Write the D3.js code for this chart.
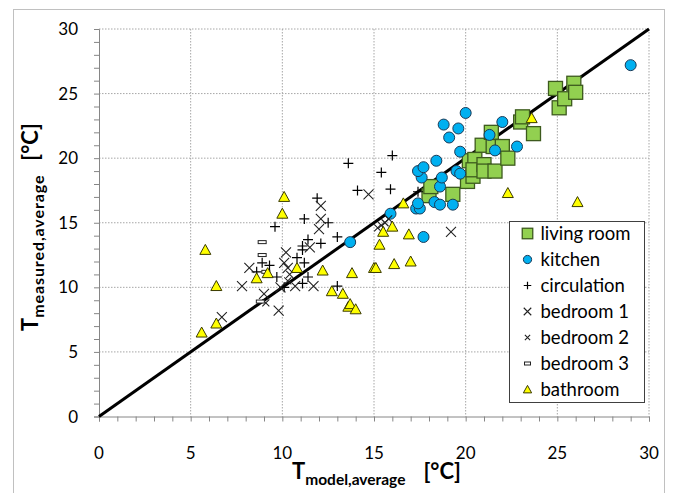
<!DOCTYPE html>
<html>
<head>
<meta charset="utf-8">
<script src="https://cdn.jsdelivr.net/npm/d3@7"></script>
<style>
    body { margin: 0; background: #fff; }
    text { font-family: Lato, "Open Sans", sans-serif; fill: #000; }
</style>
</head>
<body>
<div id="scatter"></div>
<script>
// parameters
var svgWidth = 675;
var svgHeight = 493;

var margin = { top: 29, right: 26, bottom: 76.5, left: 99 };
var chartWidth = svgWidth - margin.left - margin.right;
var chartHeight = svgHeight - margin.top - margin.bottom;

// data: [T model, T measured]
var livingRoom = [[18.0,17.1],[18.1,17.8],[19.3,17.2],[20.1,18.2],[20.4,18.6],[20.2,19.8],[20.5,19.9],
    [20.4,19.1],[21.0,19.5],[21.0,19.0],[21.6,19.0],[20.9,21.0],[21.4,22.0],[21.5,20.9],[22.0,20.9],
    [22.3,20.0],[23.0,22.8],[23.1,23.2],[23.7,21.9],[24.9,25.4],[25.1,23.9],[25.4,24.6],[25.9,25.8],[26.0,25.1]];
var kitchen = [[13.7,13.5],[15.9,15.7],[17.3,16.1],[17.5,16.1],[17.4,16.5],[17.7,13.9],[18.3,16.6],
    [18.6,16.4],[19.3,16.4],[18.6,17.8],[17.6,18.5],[18.7,18.5],[17.4,19.0],[17.7,19.3],[18.4,19.8],
    [19.5,19.0],[19.7,18.8],[19.7,20.5],[19.1,21.6],[18.8,22.6],[19.6,22.3],[20.0,23.5],[21.3,21.8],
    [21.6,20.6],[22.0,22.8],[22.8,20.9],[29.0,27.2]];
var circulation = [[8.6,11.2],[8.9,11.9],[9.3,11.7],[9.6,14.7],[9.7,10.8],[10.1,10.0],[10.8,12.3],
    [11.1,13.2],[11.1,12.9],[11.2,11.9],[11.4,13.7],[11.4,10.8],[11.1,10.3],[11.2,15.3],[11.9,16.9],
    [12.1,13.4],[12.5,15.0],[13.0,13.9],[13.0,10.1],[13.6,19.6],[14.1,17.5],[15.4,18.9],[15.9,17.6],
    [16.0,20.2],[17.4,17.4]];
var bedroom1 = [[6.7,7.7],[7.8,10.1],[8.2,11.5],[9.0,9.5],[9.8,8.2],[9.9,10.0],[10.2,12.7],[10.1,11.9],
    [10.3,11.5],[10.7,10.1],[11.5,13.1],[11.7,10.1],[12.0,14.5],[12.1,15.3],[12.1,16.3],[14.7,17.2],[19.2,14.3]];
var bedroom2 = [[9.1,8.8],[10.4,11.0],[10.3,10.5],[15.2,14.6],[15.4,14.8],[15.6,15.0],[15.8,15.3]];
var bedroom3 = [[8.9,13.5],[8.9,12.5],[9.1,11.2],[8.8,8.9]];
var bathroom = [[5.6,6.5],[5.8,12.9],[6.4,7.2],[6.4,10.1],[8.6,10.7],[9.2,11.1],[10.0,15.7],[10.1,17.0],
    [10.8,11.5],[12.2,11.3],[12.7,9.7],[13.3,9.5],[13.6,8.5],[13.7,8.7],[14.0,8.3],[13.8,11.1],[15.0,11.5],
    [15.1,11.5],[15.3,13.3],[15.5,14.3],[16.0,14.7],[16.1,11.8],[16.6,16.5],[16.9,14.1],[17.0,12.0],
    [22.3,17.3],[23.6,23.1],[26.1,16.6]];

var seriesNames = ["living room", "kitchen", "circulation", "bedroom 1", "bedroom 2", "bedroom 3", "bathroom"];
var seriesData = [livingRoom, kitchen, circulation, bedroom1, bedroom2, bedroom3, bathroom];
var majorTicks = [0, 5, 10, 15, 20, 25, 30];
var minorTicks = d3.range(0, 31, 1);
var identityLine = [[0, 0], [30, 30]];

var svg = d3.select("#scatter")
    .append("svg")
    .attr("width", svgWidth)
    .attr("height", svgHeight);

// chart outer border
svg.append("rect")
    .attr("x", 13.5).attr("y", 9.5)
    .attr("width", 651).attr("height", 495)
    .attr("fill", "none")
    .attr("stroke", "#c0c0c0");

var chartGroup = svg.append("g")
    .attr("transform", `translate(${margin.left}, ${margin.top})`);

var xScale = d3.scaleLinear().domain([0, 30]).range([0, chartWidth]);
var yScale = d3.scaleLinear().domain([0, 30]).range([chartHeight, 0]);

// gridlines
chartGroup.selectAll(".vgrid")
    .data(majorTicks.slice(1))
    .enter().append("line")
    .attr("x1", d => xScale(d)).attr("x2", d => xScale(d))
    .attr("y1", 0).attr("y2", chartHeight)
    .attr("stroke", "#a6a6a6").attr("stroke-dasharray", "1.5,1.5");

chartGroup.selectAll(".hgrid")
    .data(majorTicks.slice(1))
    .enter().append("line")
    .attr("x1", 0).attr("x2", chartWidth)
    .attr("y1", d => yScale(d)).attr("y2", d => yScale(d))
    .attr("stroke", "#a6a6a6").attr("stroke-dasharray", "1.5,1.5");

// axes
var xAxis = d3.axisBottom(xScale).tickValues(minorTicks).tickSize(5).tickFormat("");
var yAxis = d3.axisLeft(yScale).tickValues(minorTicks).tickSize(5).tickFormat("");

var xg = chartGroup.append("g")
    .attr("transform", `translate(0, ${chartHeight})`)
    .call(xAxis);
var yg = chartGroup.append("g").call(yAxis);
[xg, yg].forEach(function (g) {
    g.select(".domain").attr("stroke", "#868686");
    g.selectAll(".tick line").attr("stroke", "#868686");
});

chartGroup.selectAll(".xlab")
    .data(majorTicks)
    .enter().append("text")
    .attr("x", d => xScale(d))
    .attr("y", chartHeight + 42)
    .attr("text-anchor", "middle")
    .attr("font-size", "17px")
    .text(d => d);

chartGroup.selectAll(".ylab")
    .data(majorTicks)
    .enter().append("text")
    .attr("x", -21)
    .attr("y", d => yScale(d) + 6)
    .attr("text-anchor", "end")
    .attr("font-size", "17px")
    .text(d => d);

// y = x line
chartGroup.append("path")
    .datum(identityLine)
    .attr("d", d3.line().x(d => xScale(d[0])).y(d => yScale(d[1])))
    .attr("stroke", "#000")
    .attr("stroke-width", 3)
    .attr("fill", "none");

// markers
function drawMarker(g, type, small) {
    var k = small ? 0.75 : 1;
    if (type === 0) {
        var s = 14 * k;
        g.append("rect").attr("x", -s / 2).attr("y", -s / 2).attr("width", s).attr("height", s)
            .attr("fill", "#92d050").attr("stroke", "#3d5a1e").attr("stroke-width", 1.3);
    } else if (type === 1) {
        g.append("circle").attr("r", 5.5 * k)
            .attr("fill", "#00b0f0").attr("stroke", "#1b3a57").attr("stroke-width", 1);
    } else if (type === 2) {
        var h = 5 * k;
        g.append("path").attr("d", `M${-h},0H${h}M0,${-h}V${h}`)
            .attr("stroke", "#000").attr("stroke-width", 1.2);
    } else if (type === 3 || type === 4) {
        var c = (type === 3 ? 5 : 3.5) * k;
        g.append("path").attr("d", `M${-c},${-c}L${c},${c}M${-c},${c}L${c},${-c}`)
            .attr("stroke", "#222").attr("stroke-width", 1.1);
    } else if (type === 5) {
        g.append("rect").attr("x", -4 * k).attr("y", -1.5).attr("width", 8 * k).attr("height", 3)
            .attr("fill", "#fff").attr("stroke", "#222").attr("stroke-width", 1);
    } else {
        var w = 5.5 * k;
        g.append("path").attr("d", `M0,${-5.5 * k}L${w},${4.5 * k}L${-w},${4.5 * k}Z`)
            .attr("fill", "#ffff00").attr("stroke", "#3a3a00").attr("stroke-width", 1);
    }
}

seriesData.forEach(function (data, i) {
    chartGroup.append("g").selectAll("g")
        .data(data)
        .enter().append("g")
        .attr("transform", d => `translate(${xScale(d[0])}, ${yScale(d[1])})`)
        .each(function () { drawMarker(d3.select(this), i, false); });
});

// legend
var legend = svg.append("g").attr("transform", "translate(509.5, 221.5)");
legend.append("rect")
    .attr("width", 135).attr("height", 181)
    .attr("fill", "#fff").attr("stroke", "#404040");

var legendRows = legend.selectAll(".row")
    .data(seriesNames)
    .enter().append("g")
    .attr("transform", (d, i) => `translate(18, ${12 + i * 26})`);

legendRows.each(function (d, i) { drawMarker(d3.select(this), i, true); });
legendRows.append("text")
    .attr("x", 13)
    .attr("y", 6.5)
    .attr("font-size", "18.5px")
    .text(d => d);

// axis titles
var xTitle = svg.append("text")
    .attr("x", 292).attr("y", 479)
    .attr("font-weight", "bold");
xTitle.append("tspan").attr("font-size", "22px").text("T");
xTitle.append("tspan").attr("font-size", "15.5px").attr("dy", 6).text("model,average");
xTitle.append("tspan").attr("font-size", "22px").attr("dy", -6).attr("dx", 18).text("[°C]");

var yTitle = svg.append("text")
    .attr("transform", "translate(38, 331) rotate(-90)")
    .attr("font-weight", "bold");
yTitle.append("tspan").attr("font-size", "22px").text("T");
yTitle.append("tspan").attr("font-size", "16px").attr("dy", 6)
    .attr("letter-spacing", "0.9px").text("measured,average");
yTitle.append("tspan").attr("font-size", "22px").attr("dy", -6).attr("dx", 14).text("[°C]");
</script>
</body>
</html>
